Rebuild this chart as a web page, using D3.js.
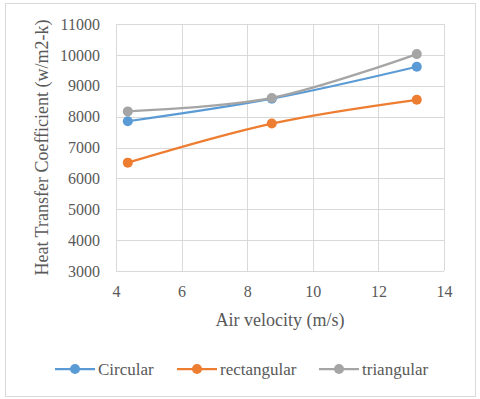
<!DOCTYPE html>
<html>
<head>
<meta charset="utf-8">
<script src="https://cdn.jsdelivr.net/npm/d3@7"></script>
<style>
  body { margin: 0; background: #fff; }
</style>
</head>
<body>
<div id="chart"></div>
<script>
const width = 480;
const height = 399;
const margin = { top: 24, right: 36, bottom: 128, left: 116 };
const font = 'Liberation Serif';

// data
const velocity = [4.36, 8.75, 13.17];
const circular = [7850, 8580, 9615];
const rectangular = [6510, 7775, 8545];
const triangular = [8170, 8605, 10025];
const seriesNames = ['Circular', 'rectangular', 'triangular'];
const colors = ['#5b9bd5', '#ed7d31', '#a5a5a5'];
const xTicks = [4, 6, 8, 10, 12, 14];
const yTicks = [3000, 4000, 5000, 6000, 7000, 8000, 9000, 10000, 11000];

const series = [circular, rectangular, triangular].map((vals, i) => ({
  name: seriesNames[i],
  color: colors[i],
  points: vals.map((v, j) => ({ x: velocity[j], y: v })),
}));

const svg = d3
  .select('#chart')
  .append('svg')
  .attr('width', width)
  .attr('height', height);

// outer chart border
svg
  .append('rect')
  .attr('x', 5.5)
  .attr('y', 3.5)
  .attr('width', 470)
  .attr('height', 393)
  .attr('fill', '#fff')
  .attr('stroke', '#d9d9d9');

const x = d3
  .scaleLinear()
  .domain([4, 14])
  .range([margin.left, width - margin.right]);
const y = d3
  .scaleLinear()
  .domain([3000, 11000])
  .range([height - margin.bottom, margin.top]);

// grid
const grid = svg.append('g').attr('stroke', '#d9d9d9').attr('stroke-width', 1);
grid
  .selectAll('.h')
  .data(yTicks)
  .join('line')
  .attr('x1', x(4))
  .attr('x2', x(14))
  .attr('y1', (d) => Math.round(y(d)) + 0.5)
  .attr('y2', (d) => Math.round(y(d)) + 0.5);
grid
  .selectAll('.v')
  .data(xTicks)
  .join('line')
  .attr('y1', y(3000))
  .attr('y2', y(11000))
  .attr('x1', (d) => Math.round(x(d)) + 0.5)
  .attr('x2', (d) => Math.round(x(d)) + 0.5);

// X axis
const xAxis = svg
  .append('g')
  .attr('transform', `translate(0, ${y(3000)})`)
  .call(d3.axisBottom(x).tickValues(xTicks).tickSize(0).tickPadding(15));
xAxis.select('.domain').remove();

// Y axis
const yAxis = svg
  .append('g')
  .attr('transform', `translate(${x(4)}, 0)`)
  .call(
    d3
      .axisLeft(y)
      .tickValues(yTicks)
      .tickFormat(d3.format('d'))
      .tickSize(0)
      .tickPadding(16)
  );
yAxis.select('.domain').remove();

svg
  .selectAll('.tick text')
  .attr('fill', '#595959')
  .attr('font-size', 16);

// axis titles
svg
  .append('text')
  .text('Air velocity (m/s)')
  .attr('x', (x(4) + x(14)) / 2)
  .attr('y', 326)
  .attr('text-anchor', 'middle')
  .attr('fill', '#595959')
  .attr('font-size', 18);

svg
  .append('text')
  .text('Heat Transfer Coefficient (w/m2-k)')
  .attr('transform', `translate(48, ${(y(3000) + y(11000)) / 2}) rotate(-90)`)
  .attr('text-anchor', 'middle')
  .attr('fill', '#595959')
  .attr('font-size', 18);

// lines and markers
const line = d3
  .line()
  .x((d) => x(d.x))
  .y((d) => y(d.y))
  .curve(d3.curveCatmullRom.alpha(0));

const groups = svg.selectAll('.series').data(series).join('g');
groups
  .append('path')
  .attr('d', (d) => line(d.points))
  .attr('fill', 'none')
  .attr('stroke', (d) => d.color)
  .attr('stroke-width', 2.25);
groups
  .selectAll('circle')
  .data((d) => d.points.map((p) => ({ ...p, color: d.color })))
  .join('circle')
  .attr('cx', (d) => x(d.x))
  .attr('cy', (d) => y(d.y))
  .attr('r', 5)
  .attr('fill', (d) => d.color);

// legend
const legendX = [55, 177, 319];
const legend = svg
  .selectAll('.legend')
  .data(series)
  .join('g')
  .attr('transform', (d, i) => `translate(${legendX[i]}, 369)`);
legend
  .append('line')
  .attr('x1', 0)
  .attr('x2', 40)
  .attr('stroke', (d) => d.color)
  .attr('stroke-width', 2.25);
legend
  .append('circle')
  .attr('cx', 20)
  .attr('r', 5)
  .attr('fill', (d) => d.color);
legend
  .append('text')
  .text((d) => d.name)
  .attr('x', 43)
  .attr('y', 5.5)
  .attr('fill', '#595959')
  .attr('font-size', 17);

// serif face on every label, set on the nodes themselves
svg.selectAll('g').attr('font-family', null);
svg.selectAll('text').each(function () {
  this.setAttribute('font-family', font);
});

// re-parse the finished svg as markup
const chartDiv = document.getElementById('chart');
chartDiv.innerHTML = chartDiv.innerHTML;
</script>
</body>
</html>
